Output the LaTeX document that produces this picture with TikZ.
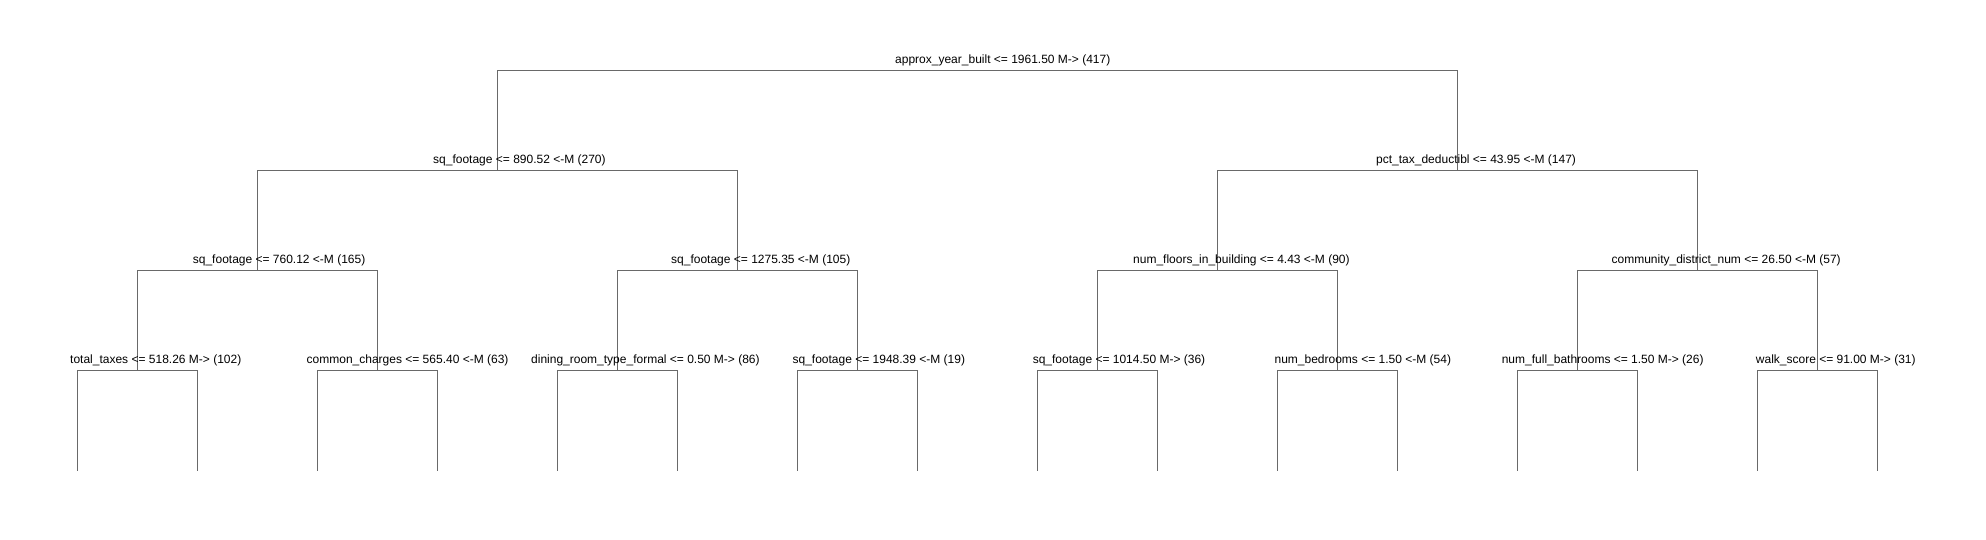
\documentclass[tikz,border=0pt]{standalone}
\usepackage{fontspec}
\setmainfont{Liberation Sans}
\usepackage{xcolor}
\usepackage{tikz}
\definecolor{treegray}{RGB}{105,105,105}
\tikzstyle{branch} = [draw=treegray, line width=1pt]
\tikzstyle{splitlabel} = [anchor=base west, inner sep=0pt, text=black, font=\fontsize{12}{14}\selectfont]

\begin{document}
\begin{tikzpicture}[x=1pt, y=-1pt]
		\useasboundingbox (0,0) rectangle (1986,540);
		
		% Split points of the tree
		\coordinate (root) at (977.3,70.5);
		\coordinate (L) at (497.3,170.5);
		\coordinate (R) at (1457.3,170.5);
		\coordinate (LL) at (257.3,270.5);
		\coordinate (LR) at (737.3,270.5);
		\coordinate (RL) at (1217.3,270.5);
		\coordinate (RR) at (1697.3,270.5);
		\coordinate (LLL) at (137.3,370.5);
		\coordinate (LLR) at (377.3,370.5);
		\coordinate (LRL) at (617.3,370.5);
		\coordinate (LRR) at (857.3,370.5);
		\coordinate (RLL) at (1097.3,370.5);
		\coordinate (RLR) at (1337.3,370.5);
		\coordinate (RRL) at (1577.3,370.5);
		\coordinate (RRR) at (1817.3,370.5);
		
		% Leaf ends
		\coordinate (leaf1) at (77.3,470.5);
		\coordinate (leaf2) at (197.3,470.5);
		\coordinate (leaf3) at (317.3,470.5);
		\coordinate (leaf4) at (437.3,470.5);
		\coordinate (leaf5) at (557.3,470.5);
		\coordinate (leaf6) at (677.3,470.5);
		\coordinate (leaf7) at (797.3,470.5);
		\coordinate (leaf8) at (917.3,470.5);
		\coordinate (leaf9) at (1037.3,470.5);
		\coordinate (leaf10) at (1157.3,470.5);
		\coordinate (leaf11) at (1277.3,470.5);
		\coordinate (leaf12) at (1397.3,470.5);
		\coordinate (leaf13) at (1517.3,470.5);
		\coordinate (leaf14) at (1637.3,470.5);
		\coordinate (leaf15) at (1757.3,470.5);
		\coordinate (leaf16) at (1877.3,470.5);
		
		% Branches
		\draw [branch] (L) |- (root) -| (R);
		\draw [branch] (LL) |- (L) -| (LR);
		\draw [branch] (RL) |- (R) -| (RR);
		\draw [branch] (LLL) |- (LL) -| (LLR);
		\draw [branch] (LRL) |- (LR) -| (LRR);
		\draw [branch] (RLL) |- (RL) -| (RLR);
		\draw [branch] (RRL) |- (RR) -| (RRR);
		\draw [branch] (leaf1) |- (LLL) -| (leaf2);
		\draw [branch] (leaf3) |- (LLR) -| (leaf4);
		\draw [branch] (leaf5) |- (LRL) -| (leaf6);
		\draw [branch] (leaf7) |- (LRR) -| (leaf8);
		\draw [branch] (leaf9) |- (RLL) -| (leaf10);
		\draw [branch] (leaf11) |- (RLR) -| (leaf12);
		\draw [branch] (leaf13) |- (RRL) -| (leaf14);
		\draw [branch] (leaf15) |- (RRR) -| (leaf16);
		
		% Split labels
		\node (rootlabel) [splitlabel] at (895,63.2) {approx\_year\_built <= 1961.50 M-> (417)};
		\node (Llabel) [splitlabel] at (433,163.2) {sq\_footage <= 890.52 <-M (270)};
		\node (Rlabel) [splitlabel] at (1376,163.2) {pct\_tax\_deductibl <= 43.95 <-M (147)};
		\node (LLlabel) [splitlabel] at (192.7,263.2) {sq\_footage <= 760.12 <-M (165)};
		\node (LRlabel) [splitlabel] at (671,263.2) {sq\_footage <= 1275.35 <-M (105)};
		\node (RLlabel) [splitlabel] at (1133,263.2) {num\_floors\_in\_building <= 4.43 <-M (90)};
		\node (RRlabel) [splitlabel] at (1611.4,263.2) {community\_district\_num <= 26.50 <-M (57)};
		\node (LLLlabel) [splitlabel] at (70,363.2) {total\_taxes <= 518.26 M-> (102)};
		\node (LLRlabel) [splitlabel] at (306.5,363.2) {common\_charges <= 565.40 <-M (63)};
		\node (LRLlabel) [splitlabel] at (531,363.2) {dining\_room\_type\_formal <= 0.50 M-> (86)};
		\node (LRRlabel) [splitlabel] at (792.4,363.2) {sq\_footage <= 1948.39 <-M (19)};
		\node (RLLlabel) [splitlabel] at (1032.6,363.2) {sq\_footage <= 1014.50 M-> (36)};
		\node (RLRlabel) [splitlabel] at (1274.4,363.2) {num\_bedrooms <= 1.50 <-M (54)};
		\node (RRLlabel) [splitlabel] at (1501.6,363.2) {num\_full\_bathrooms <= 1.50 M-> (26)};
		\node (RRRlabel) [splitlabel] at (1755.7,363.2) {walk\_score <= 91.00 M-> (31)};
		
	\end{tikzpicture}
\end{document}
